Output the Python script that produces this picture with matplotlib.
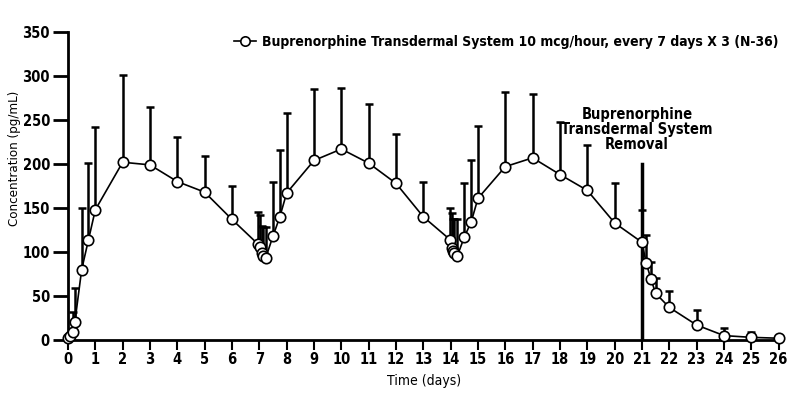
import matplotlib.pyplot as plt
from matplotlib import font_manager

# Cari font sempit (narrow/condensed) yang terpasang
names = {f.name for f in font_manager.fontManager.ttflist}
if 'Liberation Sans Narrow' in names:
    plt.rcParams['font.family'] = ['Liberation Sans Narrow', 'DejaVu Sans']
elif 'DejaVu Sans Condensed' in names:
    plt.rcParams['font.family'] = ['DejaVu Sans Condensed', 'DejaVu Sans']
else:
    plt.rcParams['font.family'] = ['DejaVu Sans']
    plt.rcParams['font.stretch'] = 'condensed'
plt.rcParams['font.weight'] = 'bold'

# Waktu pengambilan sampel (hari) dan konsentrasi rata-rata (pg/mL)
days = [0, 0.08, 0.17, 0.25, 0.5, 0.75, 1, 2, 3, 4, 5, 6,
        6.95, 7.03, 7.08, 7.13, 7.23, 7.5, 7.75, 8, 9, 10, 11, 12, 13,
        13.98, 14.04, 14.08, 14.13, 14.25, 14.5, 14.75, 15, 16, 17, 18, 19, 20,
        21, 21.15, 21.33, 21.5, 22, 23, 24, 25, 26]
conc = [2, 5, 9, 20, 80, 114, 148, 202, 199, 180, 168, 137,
        109, 106, 99, 96, 93, 118, 140, 167, 204, 217, 201, 178, 140,
        114, 105, 101, 99, 96, 117, 134, 161, 197, 207, 188, 170, 133,
        111, 88, 69, 53, 37, 17, 5, 3, 2]
upper = [2, 5, 32, 59, 150, 201, 242, 301, 265, 231, 209, 175,
         146, 142, 130, 128, 128, 180, 216, 258, 285, 286, 268, 234, 180,
         150, 144, 137, 137, 137, 178, 205, 243, 282, 279, 248, 222, 178,
         148, 119, 89, 70, 56, 34, 14, 9, 2]
err = [u - c for u, c in zip(upper, conc)]

removal_day = 21
removal_top = 200
label = 'Buprenorphine Transdermal System 10 mcg/hour, every 7 days X 3 (N-36)'

fig = plt.figure(figsize=(8, 3.97), dpi=100)
ax = fig.add_axes([0.085, 0.1436, 0.89, 0.7758])

ax.errorbar(days, conc, yerr=[[0] * len(err), err], fmt='none',
            ecolor='black', elinewidth=1.8, capsize=3, capthick=1.8,
            zorder=2, clip_on=False)
ax.plot(days, conc, color='black', linewidth=1.2, marker='o', markersize=7.5,
        markerfacecolor='white', markeredgecolor='black', markeredgewidth=1.2,
        label=label, zorder=3, clip_on=False)

# Garis penanda pelepasan patch
ax.plot([removal_day, removal_day], [0, removal_top], color='black',
        linewidth=2.5, zorder=1)
ax.text(20.82, 214, 'Buprenorphine\nTransdermal System\nRemoval',
        ha='center', va='bottom', fontsize=10.5, linespacing=1.0)

ax.set_xlim(0, 26.05)
ax.set_ylim(0, 350)
ax.set_xticks(range(0, 27))
ax.set_yticks(range(0, 351, 50))
ax.spines['top'].set_visible(False)
ax.spines['right'].set_visible(False)
ax.spines['left'].set_linewidth(2)
ax.spines['bottom'].set_linewidth(2)
ax.tick_params(axis='y', length=11, width=2, labelsize=10.5, pad=2)
ax.tick_params(axis='x', length=7, width=1.5, labelsize=10.5, pad=2)

ax.set_xlabel('Time (days)', fontsize=10, labelpad=5)
ax.set_ylabel('Concentration (pg/mL)', fontsize=9.5)
ax.yaxis.set_label_coords(-0.066, 0.59)

ax.legend(loc='center right', bbox_to_anchor=(1.015, 0.967), frameon=False,
          fontsize=10, handlelength=1.6, handletextpad=0.4, markerscale=0.9)

plt.savefig('out.png', dpi=100)
